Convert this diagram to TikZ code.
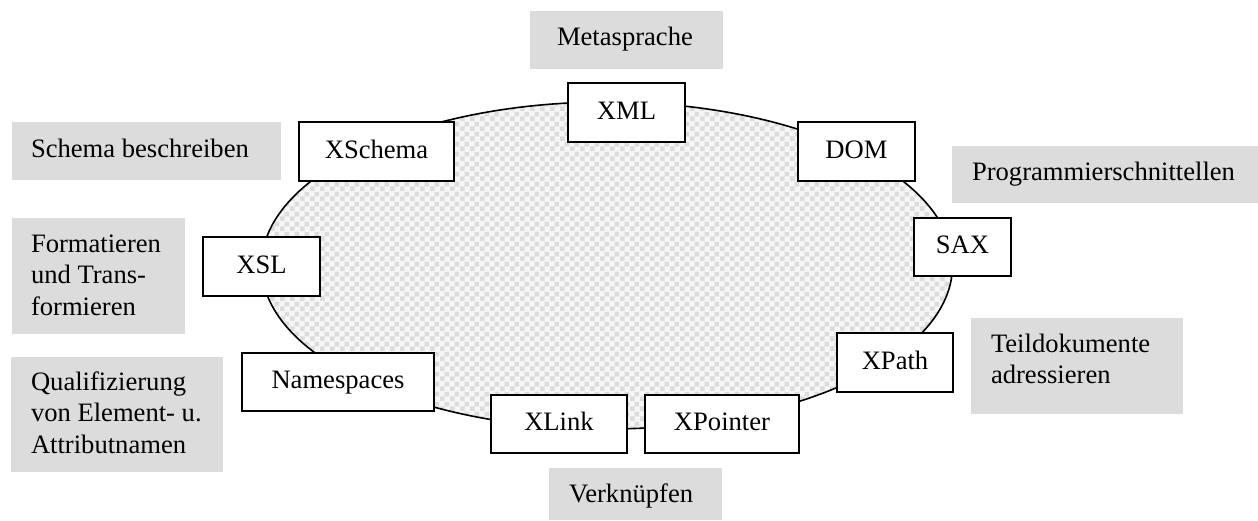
\documentclass[tikz,border=0pt]{standalone}
\usepackage{fontspec}
\setmainfont{Liberation Serif}
\usetikzlibrary{patterns,shapes.geometric}

% small chequer tile for the ring fill
\pgfdeclarepatternformonly{chequer}{\pgfpointorigin}{\pgfqpoint{10pt}{10pt}}{\pgfqpoint{10pt}{10pt}}{%
  \pgfpathrectangle{\pgfpointorigin}{\pgfqpoint{5pt}{5pt}}%
  \pgfpathrectangle{\pgfqpoint{5pt}{5pt}}{\pgfqpoint{5pt}{5pt}}%
  \pgfusepath{fill}}

\definecolor{labelgray}{RGB}{220,220,220}
\definecolor{chequerdark}{RGB}{220,220,220}
\definecolor{chequerlight}{RGB}{246,246,246}

\begin{document}
\begin{tikzpicture}[x=1pt,y=-1pt,
  every node/.style={font=\fontsize{26.6}{31.5}\selectfont, inner sep=0pt, outer sep=0pt},
  term/.style={draw, line width=2pt, fill=white, minimum height=59pt,
               text height=13pt, text depth=0pt},
  topic/.style={fill=labelgray, anchor=north west},
  topictext/.style={anchor=base west}]

\useasboundingbox (0,0) rectangle (1258,520);

% the ring of XML technologies
\node[ellipse, draw, line width=1.6pt, minimum width=691pt, minimum height=327pt,
      preaction={fill=chequerlight}, pattern=chequer, pattern color=chequerdark]
      (ring) at (607,265.5) {};

% technology boxes sitting on the ring
\node[term, minimum width=117pt] (xml)  at (626.5,112.5) {XML};
\node[term, minimum width=155pt] (xschema) at (376.5,151.5) {XSchema};
\node[term, minimum width=117pt] (dom)  at (856.5,151.5) {DOM};
\node[term, minimum width=97pt, minimum height=58pt] (sax) at (962.5,247) {SAX};
\node[term, minimum width=117pt] (xsl)  at (261.5,266.5) {XSL};
\node[term, minimum width=192pt, minimum height=58pt] (ns) at (338,382) {Namespaces};
\node[term, minimum width=136pt, minimum height=58pt] (xlink) at (559,424) {XLink};
\node[term, minimum width=154pt, minimum height=58pt] (xpointer) at (722,424) {XPointer};
\node[term, minimum width=116pt] (xpath) at (895,362.5) {XPath};

% grey explanation boxes
\node[topic, minimum width=193pt, minimum height=58pt] (metaBox) at (530,11) {};
\node[topictext] (metaText) at ([xshift=27pt,yshift=-34.5pt]metaBox.north west) {Metasprache};

\node[topic, minimum width=269pt, minimum height=58pt] (schemaBox) at (12,122) {};
\node[topictext] (schemaText) at ([xshift=19pt,yshift=-35pt]schemaBox.north west) {Schema beschreiben};

\node[topic, minimum width=306pt, minimum height=57pt] (apiBox) at (952,146) {};
\node[topictext] (apiText) at ([xshift=20pt,yshift=-34pt]apiBox.north west) {Programmierschnittellen};

\node[topic, minimum width=173pt, minimum height=116pt] (formBox) at (12,218) {};
\node[topictext] (formText) at ([xshift=19pt,yshift=-34pt]formBox.north west)
  {\parbox[t]{160pt}{\raggedright Formatieren\\und Trans-\\formieren}};

\node[topic, minimum width=212pt, minimum height=96pt] (partBox) at (971,318) {};
\node[topictext] (partText) at ([xshift=20pt,yshift=-34pt]partBox.north west)
  {\parbox[t]{200pt}{\raggedright Teildokumente\\adressieren}};

\node[topic, minimum width=212pt, minimum height=115pt] (qualBox) at (11,357) {};
\node[topictext] (qualText) at ([xshift=20pt,yshift=-33pt]qualBox.north west)
  {\parbox[t]{200pt}{\raggedright Qualifizierung\\von Element- u.\\Attributnamen}};

\node[topic, minimum width=173pt, minimum height=52pt] (linkBox) at (549,468) {};
\node[topictext] (linkText) at ([xshift=20pt,yshift=-34pt]linkBox.north west) {Verknüpfen};

\end{tikzpicture}
\end{document}
